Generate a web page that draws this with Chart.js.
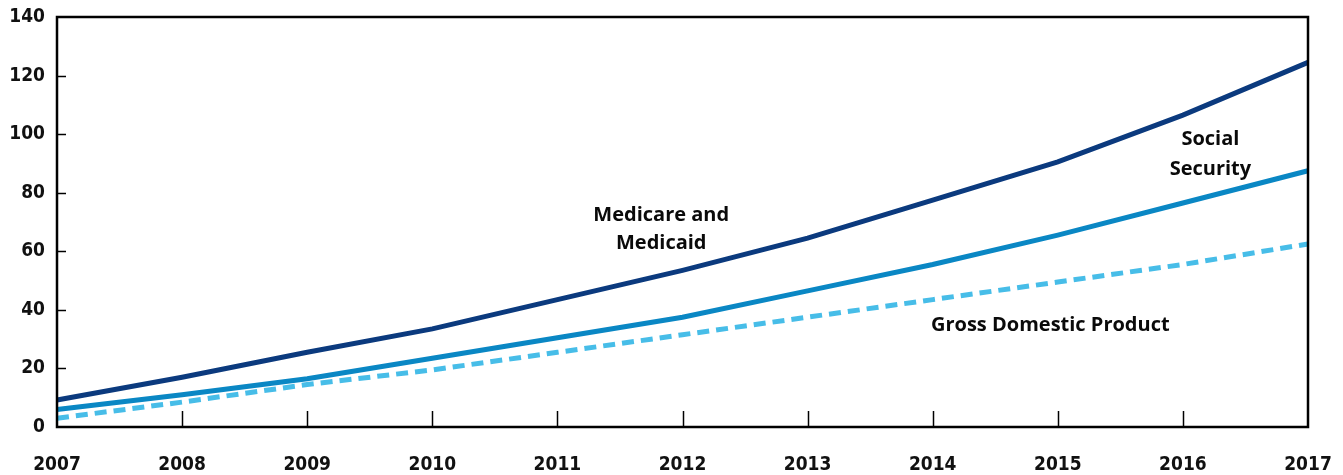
<!DOCTYPE html>
<html>
<head>
<meta charset="utf-8">
<script src="https://cdn.jsdelivr.net/npm/chart.js@4.4.1/dist/chart.umd.min.js"></script>
<style>
  html, body { margin: 0; padding: 0; background: #fff; }
  #wrap { width: 1343px; height: 475px; }
</style>
</head>
<body>
<div id="wrap"><canvas id="chart"></canvas></div>
<script>
const years = ['2007', '2008', '2009', '2010', '2011', '2012', '2013', '2014', '2015', '2016', '2017'];
const medicare = [9.2, 17, 25.5, 33.5, 43.5, 53.5, 64.5, 77.5, 90.5, 106.5, 124.5];
const socialSecurity = [6, 11, 16.5, 23.5, 30.5, 37.5, 46.5, 55.5, 65.5, 76.5, 87.5];
const gdp = [3, 8.5, 14.5, 19.5, 25.5, 31.5, 37.5, 43.5, 49.5, 55.5, 62.5];
const yTicks = [0, 20, 40, 60, 80, 100, 120, 140];

const tickFont = { family: '"DejaVu Sans Condensed", "Liberation Sans", sans-serif', size: 19, weight: 'bold' };
const labelFont = 'bold 20px "Open Sans", "Liberation Sans", sans-serif';

// frame, inward tick marks and the text labels on the lines
const decorations = {
    id: 'decorations',
    afterDraw(chart) {
        const ctx = chart.ctx;
        const area = chart.chartArea;
        const x = chart.scales.x;
        const y = chart.scales.y;
        ctx.save();
        ctx.strokeStyle = '#000';

        // inner ticks
        ctx.lineWidth = 1.5;
        for (let i = 1; i < years.length - 1; i++) {
            const px = Math.round(x.getPixelForValue(i)) + 0.5;
            ctx.beginPath();
            ctx.moveTo(px, area.bottom);
            ctx.lineTo(px, area.bottom - 16);
            ctx.stroke();
        }
        yTicks.slice(1, -1).forEach(v => {
            const py = Math.round(y.getPixelForValue(v)) + 0.5;
            ctx.beginPath();
            ctx.moveTo(area.left, py);
            ctx.lineTo(area.left + 9, py);
            ctx.stroke();
        });

        // frame
        ctx.lineWidth = 2.5;
        ctx.strokeRect(area.left, area.top, area.right - area.left, area.bottom - area.top);

        // labels
        ctx.fillStyle = '#0a0a0a';
        ctx.font = labelFont;
        ctx.textAlign = 'center';
        ctx.textBaseline = 'middle';
        const labels = [
            ['Medicare and', 4.83, 72.2],
            ['Medicaid', 4.83, 62.6],
            ['Social', 9.22, 98.1],
            ['Security', 9.22, 87.9],
            ['Gross Domestic Product', 7.94, 34.6]
        ];
        labels.forEach(l => {
            ctx.fillText(l[0], x.getPixelForValue(l[1]), y.getPixelForValue(l[2]));
        });
        ctx.restore();
    }
};

new Chart(document.getElementById('chart'), {
    type: 'line',
    data: {
        labels: years,
        datasets: [
            {
                label: 'Medicare and Medicaid',
                data: medicare,
                borderColor: '#0b3a7e',
                borderWidth: 5,
                pointRadius: 0,
                tension: 0
            },
            {
                label: 'Social Security',
                data: socialSecurity,
                borderColor: '#0a87c4',
                borderWidth: 5,
                pointRadius: 0,
                tension: 0
            },
            {
                label: 'Gross Domestic Product',
                data: gdp,
                borderColor: '#47bde8',
                borderWidth: 5,
                borderDash: [12, 7],
                pointRadius: 0,
                tension: 0
            }
        ]
    },
    options: {
        responsive: true,
        maintainAspectRatio: false,
        animation: false,
        layout: { padding: { top: 17, right: 35, left: 0, bottom: 0 } },
        plugins: {
            legend: { display: false },
            tooltip: { enabled: false }
        },
        scales: {
            x: {
                grid: { display: false, drawTicks: false },
                border: { display: false },
                ticks: {
                    color: '#111',
                    font: tickFont,
                    padding: 27,
                    maxRotation: 0,
                    autoSkip: false
                },
                afterFit(scale) {
                    scale.height = 48;
                    scale.paddingLeft = 0;
                    scale.paddingRight = 0;
                }
            },
            y: {
                min: 0,
                max: 140,
                grid: { display: false, drawTicks: false },
                border: { display: false },
                afterBuildTicks(scale) { scale.ticks = yTicks.map(v => ({ value: v })); },
                ticks: {
                    color: '#111',
                    font: tickFont,
                    padding: 12
                },
                afterFit(scale) {
                    scale.width = 57;
                    scale.paddingTop = 0;
                    scale.paddingBottom = 0;
                }
            }
        }
    },
    plugins: [decorations]
});
</script>
</body>
</html>
